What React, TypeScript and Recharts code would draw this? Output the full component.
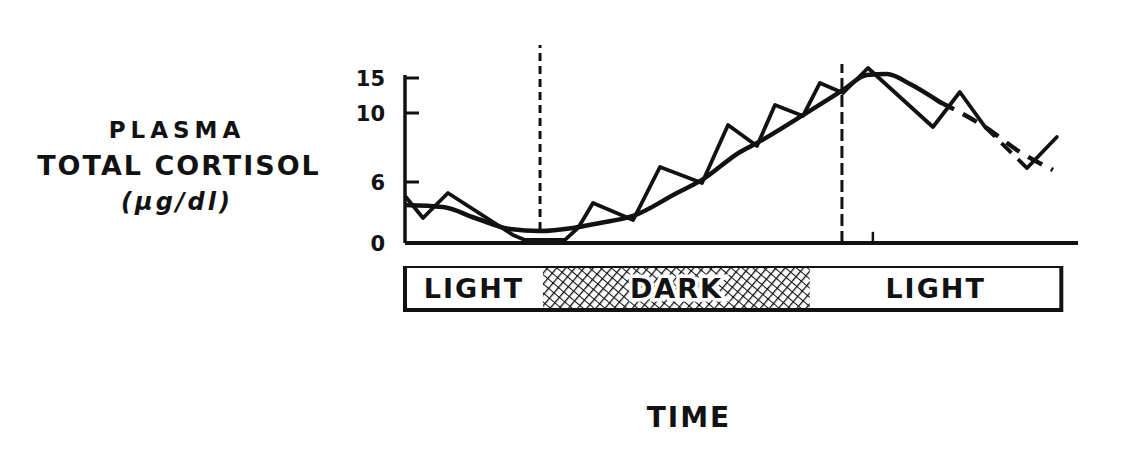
import React from 'react';
import { LineChart, Line, XAxis, YAxis, ReferenceLine, ReferenceArea } from 'recharts';

// ---------- data (time in hours, cortisol in µg/dl) ----------
const pulseTimes = [0, 0.81, 1.93, 4.85, 5.39, 7.19, 7.78, 8.45, 10.25, 11.46, 13.35, 14.52, 15.82, 16.63, 17.89, 18.65, 19.69, 20.81, 23.73, 24.94, 26.07];
const pulseValues = [4.62, 2.46, 4.92, 0.79, 0.3, 0.3, 1.48, 3.93, 2.26, 6.87, 5.9, 9.3, 8.09, 11.14, 9.83, 14.29, 12.86, 16.43, 9.19, 13.0, 9.19];
const pulseGapTimes = [26.07, 27.96];
const pulseGapValues = [9.19, 6.81];
const pulseTailTimes = [27.96, 29.3];
const pulseTailValues = [6.81, 8.61];

const meanTimes = [0, 1.71, 3.15, 4.72, 6.07, 7.55, 8.76, 10.25, 12.22, 13.35, 15.06, 15.82, 17.89, 19.69, 20.76, 21.66, 22.7, 24.04];
const meanValues = [3.74, 3.54, 2.46, 1.38, 1.18, 1.48, 1.97, 2.66, 4.92, 6.12, 7.74, 8.26, 9.88, 13.29, 15.43, 15.57, 14.14, 11.57];
const meanDashedTimes = [24.04, 26.07, 27.64, 29.12];
const meanDashedValues = [11.57, 9.19, 7.74, 6.7];

const yTicks = [0, 6, 10, 15];
const yAxisTop = 15.43;
const timeDomain = [0, 30.25];

const markerTimes = [6.07, 19.64];
const markerFrom = [1.28, 0];
const markerTo = [19.7, 17.0];
const peakTickTime = 21.03;

const periodLabels = ['LIGHT', 'DARK', 'LIGHT'];
const periodStarts = [0, 6.2, 18.2];
const periodEnds = [6.2, 18.2, 29.5];
const periodDark = [false, true, false];

// axis breakpoints of the hand-drawn (non-uniform) cortisol axis
const AXIS_VALUES = [0, 6, 10, 15, 20];
const AXIS_FRACTIONS = [0, 61 / 200, 130 / 200, 165 / 200, 1];

const rows = (ts: number[], vs: number[]) => ts.map((t, i) => ({ t, v: vs[i] }));

const INK = '#121212';
const FONT = '"DejaVu Sans", sans-serif';

function interp(xs: number[], ys: number[], v: number): number {
  let i = 0;
  if (v >= xs[xs.length - 1]) i = xs.length - 2;
  else if (v > xs[0]) {
    while (i < xs.length - 2 && v > xs[i + 1]) i++;
  }
  return ys[i] + ((ys[i + 1] - ys[i]) * (v - xs[i])) / (xs[i + 1] - xs[i]);
}
const warp = (v: number) => interp(AXIS_VALUES, AXIS_FRACTIONS, v);
const unwarp = (f: number) => interp(AXIS_FRACTIONS, AXIS_VALUES, f);

function makeWarpScale(dom: number[] = [0, 20], rng: number[] = [0, 1]): any {
  let d = [...dom];
  let r = [...rng];
  const scale: any = (value: any) => {
    const a = warp(d[0]);
    const b = warp(d[d.length - 1]);
    return r[0] + ((r[r.length - 1] - r[0]) * (warp(Number(value)) - a)) / (b - a);
  };
  scale.domain = function (x?: any) {
    if (arguments.length === 0 || x === undefined) return [...d];
    d = [...x].map(Number);
    return scale;
  };
  scale.range = function (x?: any) {
    if (arguments.length === 0 || x === undefined) return [...r];
    r = [...x].map(Number);
    return scale;
  };
  scale.copy = () => makeWarpScale(d, r);
  scale.ticks = () => yTicks.filter((t) => t >= d[0] && t <= d[d.length - 1]);
  scale.tickFormat = () => (v: any) => String(v);
  scale.invert = (px: number) => {
    const a = warp(d[0]);
    const b = warp(d[d.length - 1]);
    return unwarp(a + ((px - r[0]) / (r[r.length - 1] - r[0])) * (b - a));
  };
  scale.clamp = () => scale;
  scale.nice = () => scale;
  return scale;
}
const cortisolScale = makeWarpScale();

const YTick = (props: any) => {
  const { x, y, payload } = props;
  const val = payload.value;
  return (
    <g>
      <text x={x} y={y + 8} textAnchor="end" fontFamily={FONT} fontWeight="bold" fontSize={21} fill={INK}>
        {String(val)}
      </text>
      {val !== 0 && <line x1={x + 20} x2={x + 34} y1={y} y2={y} stroke={INK} strokeWidth={3} />}
    </g>
  );
};

const makePeriodLabel = (label: string, dark: boolean) => (lp: any) => {
  const vb = lp.viewBox || {};
  return (
    <text
      x={vb.x + vb.width / 2}
      y={vb.y + vb.height / 2 + 10}
      textAnchor="middle"
      fontFamily={FONT}
      fontWeight="bold"
      fontSize={27}
      letterSpacing={2}
      fill={INK}
      stroke={dark ? '#fff' : 'none'}
      strokeWidth={dark ? 7 : 0}
      style={{ paintOrder: 'stroke' }}
    >
      {label}
    </text>
  );
};

export default function App() {
  const periods = periodLabels.map((label, i) => ({
    label,
    start: periodStarts[i],
    end: periodEnds[i],
    dark: periodDark[i],
  }));
  const bandRows = [
    { t: periodStarts[0], b: 0 },
    { t: periodEnds[periodEnds.length - 1], b: 1 },
  ];
  return (
    <div style={{ position: 'absolute', left: 0, top: 0, width: 1132, height: 468, background: '#fff' }}>
      <svg width={0} height={0} style={{ position: 'absolute' }}>
        <defs>
          <pattern id="darkHatch" width={7} height={7} patternUnits="userSpaceOnUse" patternTransform="rotate(40)">
            <rect width={7} height={7} fill="#fff" />
            <path d="M0 0 L0 7" stroke={INK} strokeWidth={2.6} />
            <path d="M0 0 L7 0" stroke={INK} strokeWidth={2} />
          </pattern>
        </defs>
      </svg>

      <div style={{ position: 'absolute', left: 0, top: 0 }}>
        <LineChart width={1132} height={468} margin={{ top: 43, right: 54, bottom: 224, left: 365 }}>
          <XAxis
            type="number"
            dataKey="t"
            domain={timeDomain}
            allowDataOverflow
            ticks={[peakTickTime]}
            tick={false}
            tickLine={false}
            axisLine={{ stroke: INK, strokeWidth: 4 }}
            height={1}
          />
          <YAxis
            type="number"
            dataKey="v"
            domain={[0, 20]}
            scale={cortisolScale}
            ticks={yTicks}
            interval={0}
            width={40}
            axisLine={false}
            tickLine={false}
            tickSize={0}
            tickMargin={20}
            tick={<YTick />}
          />
          <ReferenceLine
            segment={[{ x: 0, y: 0 }, { x: 0, y: yAxisTop }]}
            stroke={INK}
            strokeWidth={3.5}
            ifOverflow="visible"
          />
          {markerTimes.map((t, i) => (
            <ReferenceLine
              key={'m' + i}
              segment={[{ x: t, y: markerFrom[i] }, { x: t, y: markerTo[i] }]}
              stroke={INK}
              strokeWidth={3}
              strokeDasharray={i === 0 ? '8 5' : '12 5'}
              ifOverflow="visible"
            />
          ))}
          <ReferenceLine
            segment={[{ x: peakTickTime, y: 0 }, { x: peakTickTime, y: 1.1 }]}
            stroke={INK}
            strokeWidth={2.5}
            ifOverflow="visible"
          />
          <Line data={rows(meanTimes, meanValues)} dataKey="v" type="monotone" stroke={INK} strokeWidth={4.5} dot={false} isAnimationActive={false} strokeLinejoin="round" strokeLinecap="round" />
          <Line data={rows(meanDashedTimes, meanDashedValues)} dataKey="v" type="monotone" stroke={INK} strokeWidth={4.5} strokeDasharray="16 10" dot={false} isAnimationActive={false} />
          <Line data={rows(pulseTimes, pulseValues)} dataKey="v" type="linear" stroke={INK} strokeWidth={3.8} dot={false} isAnimationActive={false} strokeLinejoin="round" strokeLinecap="round" />
          <Line data={rows(pulseGapTimes, pulseGapValues)} dataKey="v" type="linear" stroke={INK} strokeWidth={3.8} strokeDasharray="14 9" dot={false} isAnimationActive={false} />
          <Line data={rows(pulseTailTimes, pulseTailValues)} dataKey="v" type="linear" stroke={INK} strokeWidth={3.8} dot={false} isAnimationActive={false} strokeLinecap="round" />
        </LineChart>
      </div>

      <div style={{ position: 'absolute', left: 0, top: 266 }}>
        <LineChart width={1132} height={46} margin={{ top: 0, right: 54, bottom: 1, left: 405 }} data={bandRows}>
          <XAxis
            type="number"
            dataKey="t"
            domain={timeDomain}
            allowDataOverflow
            ticks={[0]}
            tick={false}
            tickLine={false}
            axisLine={false}
            height={1}
          />
          <YAxis type="number" dataKey="b" domain={[0, 1]} width={0} tick={false} tickLine={false} axisLine={false} />
          <Line dataKey="b" stroke="none" strokeWidth={0} dot={false} isAnimationActive={false} />
          {periods.map((p, i) => (
            <ReferenceArea
              key={'p' + i}
              x1={p.start}
              x2={p.end}
              y1={0}
              y2={1}
              fill={p.dark ? 'url(#darkHatch)' : '#fff'}
              fillOpacity={1}
              stroke="none"
              ifOverflow="visible"
              label={{ content: makePeriodLabel(p.label, p.dark) }}
            />
          ))}
          <ReferenceArea
            x1={periodStarts[0]}
            x2={periodEnds[periodEnds.length - 1]}
            y1={0}
            y2={1}
            fill="none"
            fillOpacity={0}
            stroke={INK}
            strokeWidth={4}
            ifOverflow="visible"
          />
        </LineChart>
      </div>

      <svg width={1132} height={468} style={{ position: 'absolute', left: 0, top: 0, pointerEvents: 'none' }}>
        <text x={177} y={138} textAnchor="middle" fontFamily={FONT} fontWeight="bold" fontSize={23} letterSpacing={5} fill={INK}>
          PLASMA
        </text>
        <text x={179} y={175} textAnchor="middle" fontFamily={FONT} fontWeight="bold" fontSize={27} letterSpacing={2} fill={INK}>
          TOTAL CORTISOL
        </text>
        <text x={177} y={210} textAnchor="middle" fontFamily={FONT} fontWeight="bold" fontStyle="italic" fontSize={24} letterSpacing={3} fill={INK}>
          (µg/dl)
        </text>
        <text x={689} y={427} textAnchor="middle" fontFamily={FONT} fontWeight="bold" fontSize={28} letterSpacing={2} fill={INK}>
          TIME
        </text>
      </svg>
    </div>
  );
}
